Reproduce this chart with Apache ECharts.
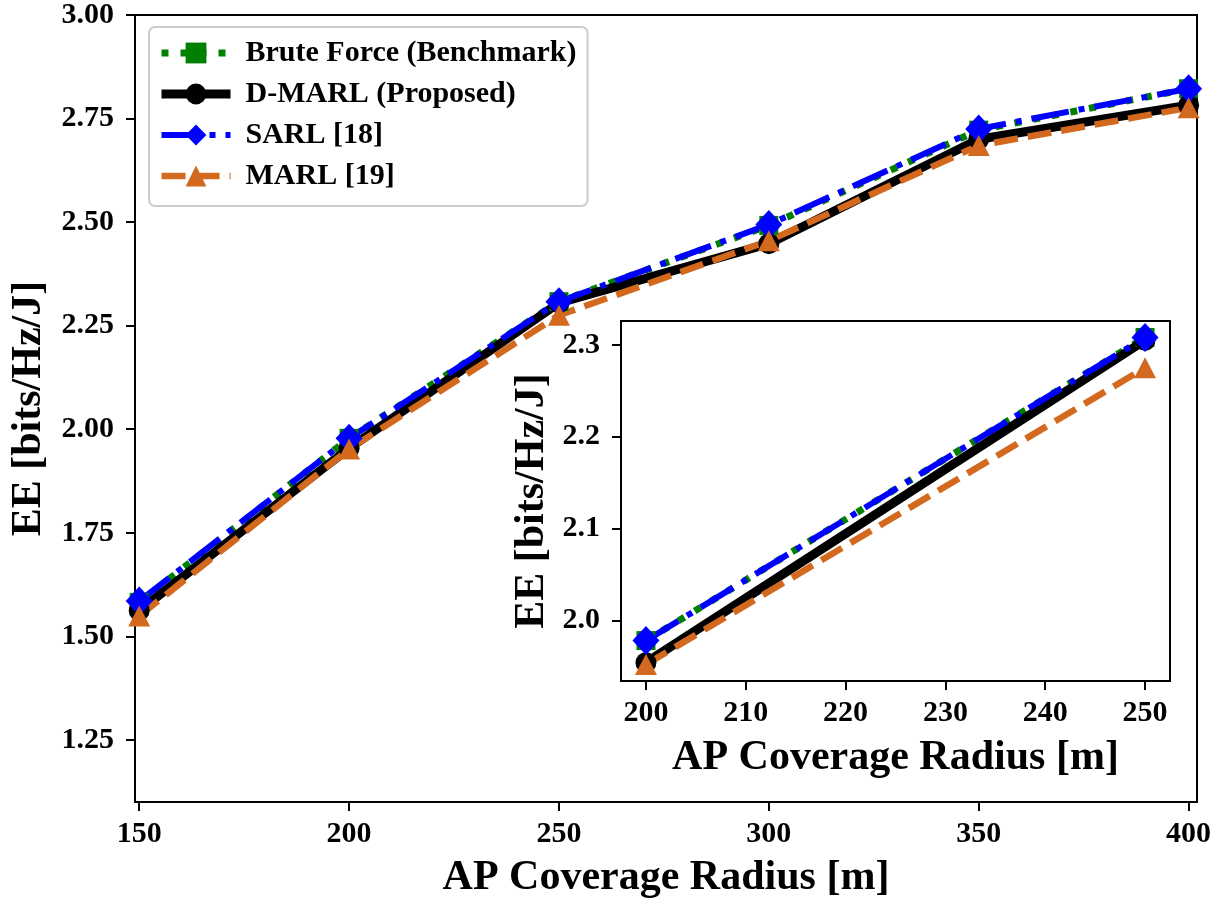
<!DOCTYPE html>
<html>
<head>
<meta charset="utf-8">
<script src="https://cdn.jsdelivr.net/npm/echarts@6/dist/echarts.min.js"></script>
<style>
  html, body { margin: 0; padding: 0; background: #fff; }
  #main { width: 1223px; height: 904px; }
</style>
</head>
<body>
<div id="main"></div>
<script>
// data
var radius = [150, 200, 250, 300, 350, 400];
var bruteForce = [1.582, 1.978, 2.308, 2.492, 2.722, 2.822];
var dMarl = [1.562, 1.954, 2.305, 2.448, 2.700, 2.782];
var sarl = [1.585, 1.978, 2.308, 2.494, 2.725, 2.822];
var marl = [1.549, 1.952, 2.275, 2.455, 2.685, 2.776];

// the zoomed inset only shows the 200..250 part
var insetFrom = 1, insetTo = 3;

var seriesNames = ['Brute Force (Benchmark)', 'D-MARL (Proposed)', 'SARL [18]', 'MARL [19]'];

var mainXTicks = [150, 200, 250, 300, 350, 400];
var mainYTicks = [1.25, 1.5, 1.75, 2.0, 2.25, 2.5, 2.75, 3.0];
var insetXTicks = [200, 210, 220, 230, 240, 250];
var insetYTicks = [2.0, 2.1, 2.2, 2.3];

var FONT = 'Liberation Serif';

function pairs(ys, from, to) {
  var out = [];
  for (var i = from; i < to; i++) out.push([radius[i], ys[i]]);
  return out;
}

var styles = [
  { data: bruteForce, color: '#008000', width: 7, type: [7, 12], symbol: 'rect', size: 19 },
  { data: dMarl, color: '#000000', width: 9, type: 'solid', symbol: 'circle', size: 21 },
  { data: sarl, color: '#0000ff', width: 6, type: [38, 10, 6, 10], symbol: 'diamond', size: [27, 29] },
  { data: marl, color: '#d2691e', width: 6.5, type: [24, 10], symbol: 'triangle', size: [22, 21] }
];

function axisCommon(ticks, fmt, labelMargin) {
  return {
    axisLine: { show: true, onZero: false, lineStyle: { color: '#000', width: 2 } },
    axisTick: { show: true, length: 9, lineStyle: { color: '#000', width: 2 }, customValues: ticks },
    axisLabel: {
      customValues: ticks,
      margin: labelMargin,
      color: '#000',
      fontFamily: FONT,
      fontWeight: 'bold',
      fontSize: 30,
      formatter: fmt
    },
    splitLine: { show: false },
    nameTextStyle: { color: '#000', fontFamily: FONT, fontWeight: 'bold', fontSize: 42 }
  };
}

var series = [];
styles.forEach(function (s, i) {
  [0, 1].forEach(function (g) {
    series.push({
      name: seriesNames[i],
      type: 'line',
      xAxisIndex: g,
      yAxisIndex: g,
      data: g === 0 ? pairs(s.data, 0, radius.length) : pairs(s.data, insetFrom, insetTo),
      symbol: s.symbol,
      symbolSize: s.size,
      showAllSymbol: true,
      animation: false,
      color: s.color,
      itemStyle: { color: s.color },
      lineStyle: { color: s.color, width: s.width, type: s.type, cap: 'butt' }
    });
  });
});

var chart = echarts.init(document.getElementById('main'), null, { renderer: 'canvas' });
chart.setOption({
  backgroundColor: '#fff',
  animation: false,
  legend: {
    data: seriesNames,
    orient: 'vertical',
    left: 149,
    top: 27,
    padding: [11, 11, 15, 8],
    itemWidth: 69,
    itemHeight: 26,
    itemGap: 11,
    backgroundColor: '#fff',
    borderColor: '#cccccc',
    borderWidth: 2,
    borderRadius: 6,
    lineStyle: { width: 'inherit', type: 'inherit' },
    textStyle: {
      color: '#000', fontFamily: FONT, fontWeight: 'bold', fontSize: 30,
      padding: [0, 0, 0, 10]
    }
  },
  grid: [
    { left: 135, right: 26, top: 12, bottom: 100, show: true, borderColor: '#000', borderWidth: 2, containLabel: false },
    { left: 621, top: 321, width: 549, height: 360, show: true, borderColor: '#000', borderWidth: 2,
      backgroundColor: '#fff', containLabel: false }
  ],
  xAxis: [
    Object.assign(axisCommon(mainXTicks, function (v) { return String(v); }, 17), {
      type: 'value', gridIndex: 0, min: 149, max: 402,
      name: 'AP Coverage Radius [m]', nameLocation: 'middle', nameGap: 55
    }),
    Object.assign(axisCommon(insetXTicks, function (v) { return String(v); }, 17), {
      type: 'value', gridIndex: 1, min: 197.5, max: 252.5,
      name: 'AP Coverage Radius [m]', nameLocation: 'middle', nameGap: 56
    })
  ],
  yAxis: [
    Object.assign(axisCommon(mainYTicks, function (v) { return v.toFixed(2); }, 21), {
      type: 'value', gridIndex: 0, min: 1.10, max: 3.00,
      name: 'EE [bits/Hz/J]', nameLocation: 'middle', nameGap: 76
    }),
    Object.assign(axisCommon(insetYTicks, function (v) { return v.toFixed(1); }, 21), {
      type: 'value', gridIndex: 1, min: 1.934, max: 2.326,
      name: 'EE [bits/Hz/J]', nameLocation: 'middle', nameGap: 68
    })
  ],
  series: series
});
</script>
</body>
</html>
